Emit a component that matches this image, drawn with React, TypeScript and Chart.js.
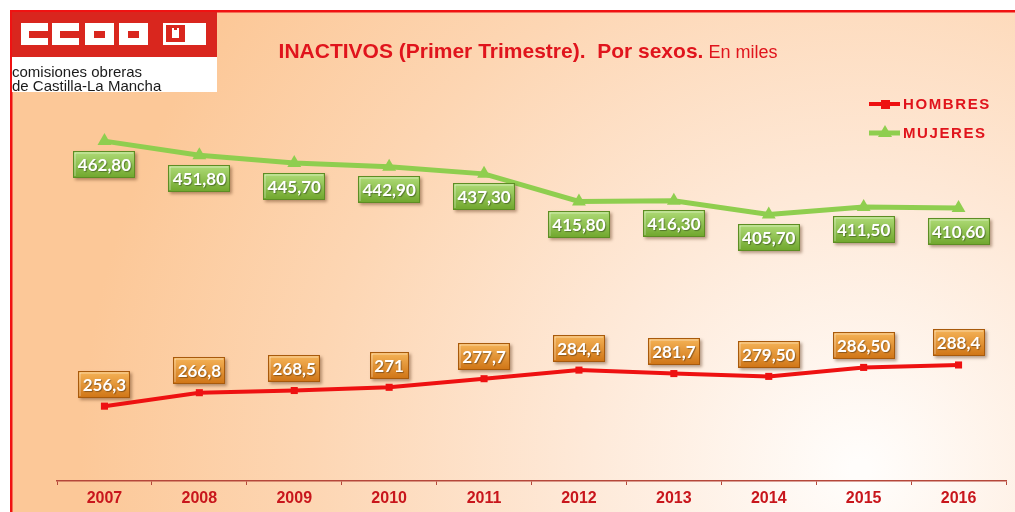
import React, { useEffect, useRef } from 'react';
import { Chart, registerables } from 'chart.js';

Chart.register(...registerables);

const categories = ['2007', '2008', '2009', '2010', '2011', '2012', '2013', '2014', '2015', '2016'];
const hombres = [256.3, 266.8, 268.5, 271, 277.7, 284.4, 281.7, 279.5, 286.5, 288.4];
const mujeres = [462.8, 451.8, 445.7, 442.9, 437.3, 415.8, 416.3, 405.7, 411.5, 410.6];
const hombresLabels = ['256,3', '266,8', '268,5', '271', '277,7', '284,4', '281,7', '279,50', '286,50', '288,4'];
const mujeresLabels = ['462,80', '451,80', '445,70', '442,90', '437,30', '415,80', '416,30', '405,70', '411,50', '410,60'];

const RED = '#ee1111';
const GREEN = '#8fce4f';

function drawBox(ctx: CanvasRenderingContext2D, cx: number, cy: number, text: string, top: string, bottom: string, border: string) {
  ctx.save();
  ctx.font = 'bold 17px Lato';
  const tw = ctx.measureText(text).width;
  const w = Math.round(tw + 9);
  const h = 27;
  const x = Math.round(cx - w / 2);
  const y = Math.round(cy - h / 2);
  ctx.shadowColor = 'rgba(90,50,20,0.45)';
  ctx.shadowOffsetX = 2;
  ctx.shadowOffsetY = 2;
  ctx.shadowBlur = 3;
  const g = ctx.createLinearGradient(0, y, 0, y + h);
  g.addColorStop(0, top);
  g.addColorStop(1, bottom);
  ctx.fillStyle = g;
  ctx.fillRect(x, y, w, h);
  ctx.shadowColor = 'transparent';
  ctx.strokeStyle = border;
  ctx.lineWidth = 1;
  ctx.strokeRect(x + 0.5, y + 0.5, w - 1, h - 1);
  ctx.strokeStyle = 'rgba(255,255,255,0.45)';
  ctx.beginPath();
  ctx.moveTo(x + 2, y + h - 2);
  ctx.lineTo(x + 2, y + 2);
  ctx.lineTo(x + w - 2, y + 2);
  ctx.stroke();
  ctx.fillStyle = '#ffffff';
  ctx.textAlign = 'center';
  ctx.textBaseline = 'middle';
  ctx.shadowColor = 'rgba(0,0,0,0.35)';
  ctx.shadowOffsetX = 1;
  ctx.shadowOffsetY = 1;
  ctx.shadowBlur = 1;
  ctx.fillText(text, cx, y + h / 2 + 1);
  ctx.restore();
}

const bgPlugin = {
  id: 'bgPlugin',
  beforeDraw(chart: any) {
    const { ctx, width, height } = chart;
    ctx.save();
    ctx.fillStyle = '#ffffff';
    ctx.fillRect(0, 0, width, height);
    const g = ctx.createRadialGradient(860, 470, 10, 860, 470, 780);
    g.addColorStop(0, '#fffdfb');
    g.addColorStop(0.35, '#fee9d8');
    g.addColorStop(0.7, '#fdd6b3');
    g.addColorStop(1, '#fcc898');
    ctx.fillStyle = g;
    ctx.fillRect(12, 12, width - 12, height - 12);
    ctx.fillStyle = '#f01212';
    ctx.fillRect(10, 10, width - 10, 2.5);
    ctx.fillRect(10, 10, 2.5, height - 10);
    ctx.restore();
  },
};

const decoPlugin = {
  id: 'decoPlugin',
  afterDatasetsDraw(chart: any) {
    const { ctx } = chart;
    const metaH = chart.getDatasetMeta(0);
    const metaM = chart.getDatasetMeta(1);
    metaM.data.forEach((pt: any, i: number) => {
      drawBox(ctx, pt.x, pt.y + 23, mujeresLabels[i], '#b0dc78', '#6fa62c', '#5d8d24');
    });
    metaH.data.forEach((pt: any, i: number) => {
      drawBox(ctx, pt.x, pt.y - 22, hombresLabels[i], '#f6b559', '#cf7415', '#a85a0c');
    });
  },
  afterDraw(chart: any) {
    const { ctx } = chart;
    ctx.save();
    // logo
    ctx.fillStyle = '#d9261e';
    ctx.fillRect(12, 12, 205, 45);
    ctx.fillStyle = '#ffffff';
    ctx.fillRect(12, 57, 205, 35);
    const cBlocks = [21, 52];
    cBlocks.forEach((bx) => {
      ctx.fillStyle = '#ffffff';
      ctx.fillRect(bx, 23, 27, 22);
      ctx.fillStyle = '#d9261e';
      ctx.fillRect(bx + 8, 31, 19, 7);
    });
    const oBlocks = [85, 119];
    oBlocks.forEach((bx) => {
      ctx.fillStyle = '#ffffff';
      ctx.fillRect(bx, 23, 29, 22);
      ctx.fillStyle = '#d9261e';
      ctx.fillRect(bx + 9, 31, 11, 7);
    });
    ctx.fillStyle = '#ffffff';
    ctx.fillRect(163, 23, 43, 22);
    ctx.fillStyle = '#d9261e';
    ctx.fillRect(166, 25, 19, 17);
    ctx.fillStyle = '#ffffff';
    ctx.fillRect(172, 30, 7, 8);
    ctx.fillRect(172, 28, 2, 2);
    ctx.fillRect(177, 28, 2, 2);
    ctx.fillStyle = '#1a1a1a';
    ctx.font = '15px "Liberation Sans", Arial';
    ctx.textAlign = 'left';
    ctx.textBaseline = 'alphabetic';
    ctx.fillText('comisiones obreras', 12, 77);
    ctx.fillText('de Castilla-La Mancha', 12, 91);

    // title
    const t1 = 'INACTIVOS (Primer Trimestre).  Por sexos.';
    const t2 = ' En miles';
    ctx.fillStyle = '#e0141c';
    ctx.font = 'bold 21px "Liberation Sans", Arial';
    const w1 = ctx.measureText(t1).width;
    ctx.font = '18px "Liberation Sans", Arial';
    const w2 = ctx.measureText(t2).width;
    const startX = 528 - (w1 + w2) / 2;
    ctx.font = 'bold 21px "Liberation Sans", Arial';
    ctx.fillText(t1, startX, 58);
    ctx.font = '18px "Liberation Sans", Arial';
    ctx.fillText(t2, startX + w1, 58);

    // legend
    ctx.lineWidth = 4;
    ctx.strokeStyle = RED;
    ctx.beginPath();
    ctx.moveTo(869, 104);
    ctx.lineTo(900, 104);
    ctx.stroke();
    ctx.fillStyle = RED;
    ctx.fillRect(881, 100, 9, 9);
    ctx.lineWidth = 5;
    ctx.strokeStyle = GREEN;
    ctx.beginPath();
    ctx.moveTo(869, 133);
    ctx.lineTo(900, 133);
    ctx.stroke();
    ctx.fillStyle = GREEN;
    ctx.beginPath();
    ctx.moveTo(885, 125);
    ctx.lineTo(892, 137);
    ctx.lineTo(878, 137);
    ctx.closePath();
    ctx.fill();
    ctx.fillStyle = '#e0141c';
    ctx.font = 'bold 15px "Liberation Sans", Arial';
    (ctx as any).letterSpacing = '1.6px';
    ctx.textBaseline = 'middle';
    ctx.fillText('HOMBRES', 903, 105);
    ctx.fillText('MUJERES', 903, 134);
    ctx.restore();
  },
};

export default function App() {
  const ref = useRef<HTMLCanvasElement>(null);
  useEffect(() => {
    if (!ref.current) return;
    const chart = new Chart(ref.current, {
      type: 'line',
      data: {
        labels: categories,
        datasets: [
          {
            label: 'HOMBRES',
            data: hombres,
            borderColor: RED,
            backgroundColor: RED,
            borderWidth: 4,
            pointStyle: 'rect',
            pointRadius: 5,
            pointBorderWidth: 0,
            tension: 0,
          },
          {
            label: 'MUJERES',
            data: mujeres,
            borderColor: GREEN,
            backgroundColor: GREEN,
            borderWidth: 5,
            pointStyle: 'triangle',
            pointRadius: 8,
            pointBorderWidth: 0,
            tension: 0,
          },
        ],
      },
      options: {
        responsive: false,
        animation: false,
        events: [],
        layout: { padding: { left: 57, right: 9, top: 60, bottom: 0 } },
        plugins: { legend: { display: false }, tooltip: { enabled: false }, title: { display: false } },
        scales: {
          x: {
            offset: true,
            grid: { drawOnChartArea: false, offset: true, color: '#b5473a', tickLength: 4, lineWidth: 1 },
            border: { color: '#b5473a', width: 1.5 },
            ticks: {
              color: '#c8161c',
              font: { family: '"Liberation Sans", Arial', weight: 'bold', size: 16 },
              padding: 4,
            },
            afterFit: (s: any) => {
              s.height = 31;
            },
          },
          y: { display: false, min: 198, max: 526 },
        },
      },
      plugins: [bgPlugin, decoPlugin],
    } as any);
    return () => chart.destroy();
  }, []);
  return (
    <div style={{ position: 'absolute', left: 0, top: 0, width: 1015, height: 512 }}>
      <canvas ref={ref} width={1015} height={512} style={{ display: 'block', width: 1015, height: 512 }} />
    </div>
  );
}
